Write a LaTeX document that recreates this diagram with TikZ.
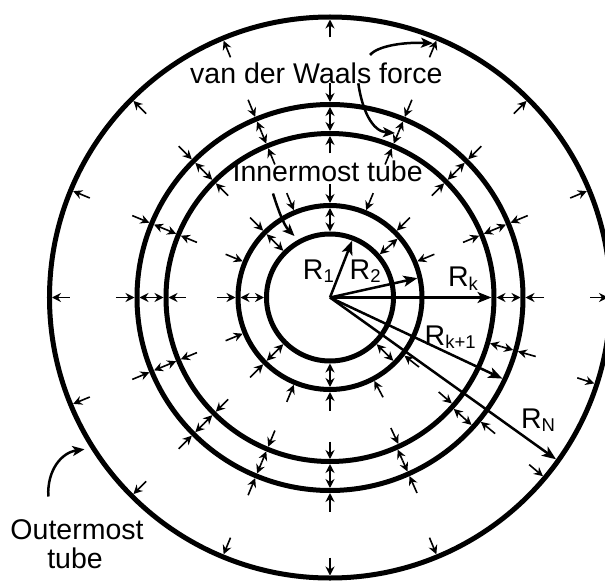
\documentclass[tikz,border=0pt]{standalone}
\usepackage{fontspec}
\setmainfont{Liberation Sans}
\usetikzlibrary{arrows.meta}
\newcommand{\sbx}[1]{\raisebox{-3.5pt}{\fontsize{18.5}{18.5}\selectfont #1}}
\begin{document}
\begin{tikzpicture}[x=1pt,y=1pt,
  tube/.style={line width=5pt},
  force/.style={line width=1.6pt,-{Stealth[length=9pt,width=9pt,inset=3pt]}},
  rline/.style={line width=2.5pt,-{Stealth[length=14pt,width=11pt,inset=3.5pt]}},
  pointer/.style={line width=2.5pt,-{Stealth[length=12pt,width=10pt,inset=3pt]}},
  lbl/.style={font=\fontsize{28.5}{30}\selectfont, inner sep=0pt, anchor=base west},
  lblc/.style={font=\fontsize{28.5}{30}\selectfont, inner sep=0pt, anchor=base}]
\useasboundingbox (-330,-283.5) rectangle (275,297.5);
\coordinate (O) at (0,0);
% tubes
\foreach \r in {63.5,92,164,193,280.5} \draw[tube] (O) circle[radius=\r pt];
% A: inside outermost tube, pointing outward
\foreach \a in {0,22.5,45,67.5,90,112.5,135,157.5,180,202.5,225,247.5,270,292.5,320,342}
  \draw[force] (\a:260) -- (\a:278);
% B: outside tube 4, pointing inward
\foreach \a in {0,22.5,45,67.5,90,112.5,135,157.5,180,202.5,225,247.5,270,294,320.5,344}
  \draw[force] (\a:214) -- (\a:195.5);
% C: gap between tubes 3 and 4
\foreach \a in {0,22.5,45,67.5,90,112.5,135,157.5,180,202.5,225,247.5,270,294,318,344}{
  \draw[force] (\a:178.5) -- (\a:190.5);
  \draw[force] (\a:178.5) -- (\a:166.5);}
% D: inside tube 3, pointing outward
\foreach \a in {22.5,45,67.5,90,112.5,135,157.5,180,202.5,225,247.5,270,295,319}
  \draw[force] (\a:144) -- (\a:161.5);
% E: outside tube 2, pointing inward
\foreach \a in {22.5,45,67.5,90,112.5,135,157.5,180,202.5,225,247.5,270,298,322}
  \draw[force] (\a:113) -- (\a:94.5);
% F: gap between tubes 1 and 2
\foreach \a in {41,90,135,180,225,270,315}{
  \draw[force] (\a:77.75) -- (\a:89.5);
  \draw[force] (\a:77.75) -- (\a:66);}
% radius arrows
\coordinate (t1) at (68.7:61);
\coordinate (t2) at (12.5:89.5);
\coordinate (tk) at (0:161.5);
\coordinate (tk1) at (-25.2:190.5);
\coordinate (tN) at (-35.6:278);
\draw[rline] (O) -- (t1);
\draw[rline] (O) -- (t2);
\draw[rline] (O) -- (tk);
\draw[rline] (O) -- (tk1);
\draw[rline] (O) -- (tN);
% labels
\node[lbl] (lR1) at (-27.2,18.2) {R\sbx{1}};
\node[lbl] (lR2) at (19.5,18.5) {R\sbx{2}};
\node[lbl] (lRk) at (117.8,10.8) {R\sbx{k}};
\node[lbl] (lRk1) at (94.5,-47.5) {R\sbx{k+1}};
\node[lbl] (lRN) at (190.8,-130.5) {R\sbx{N}};
\node[lbl] (vdw) at (-140,214.2) {van der Waals force};
\node[lbl] (inner) at (-97.6,115.8) {Innermost tube};
\node[lbl] (outer) at (-319.7,-241.8) {Outermost};
\node[lblc] (outer2) at (-255,-270.8) {tube};
% pointers
\coordinate (p1a) at (40,242.5);
\coordinate (p1b) at (103,254.2);
\draw[pointer] (p1a) .. controls (48,252) and (75,255.5) .. (p1b);
\coordinate (p2a) at (28.3,214.2);
\coordinate (p2b) at (65,164.5);
\draw[pointer] (p2a) .. controls (32,188) and (42,166) .. (p2b);
\coordinate (p3a) at (-57,104);
\coordinate (p3b) at (-35.5,61.5);
\draw[pointer] (p3a) .. controls (-52,88) and (-46,72) .. (p3b);
\coordinate (p4a) at (-281.7,-199);
\coordinate (p4b) at (-245.5,-151.8);
\draw[pointer] (p4a) .. controls (-283,-172) and (-268,-155) .. (p4b);
\end{tikzpicture}
\end{document}
